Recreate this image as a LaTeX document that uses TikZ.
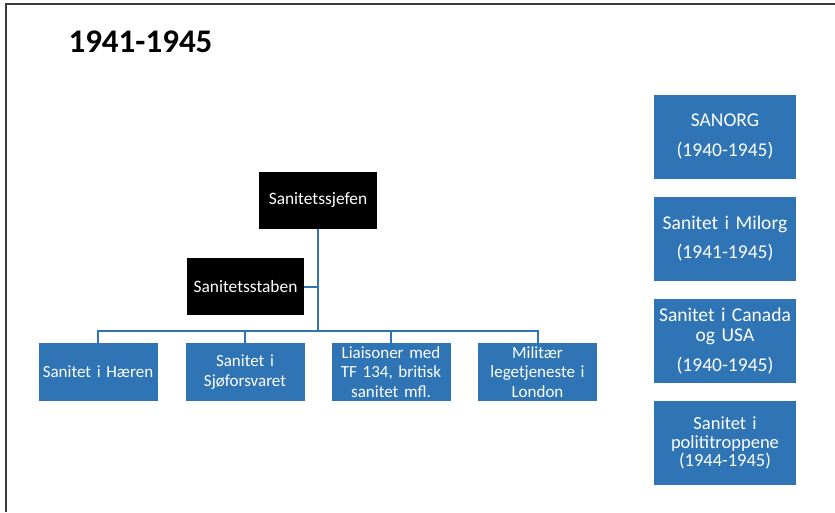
\documentclass[tikz,border=0pt]{standalone}
\usepackage{fontspec}
\setmainfont{Carlito}
\definecolor{orgblue}{RGB}{47,117,181}
\definecolor{framegray}{RGB}{60,60,60}
\begin{document}
\begin{tikzpicture}[x=1pt,y=-1pt,
  darkbox/.style={fill=black,text=white,inner sep=0pt,minimum width=118pt,minimum height=57pt,align=center,font=\fontsize{17.4}{20}\selectfont},
  unitbox/.style={fill=orgblue,text=white,inner sep=0pt,minimum width=119pt,minimum height=58pt,text width=117pt,align=center,font=\fontsize{17}{19.5}\selectfont},
  sidebox/.style={fill=orgblue,text=white,inner sep=0pt,minimum width=142pt,minimum height=84pt,text width=140pt,align=center,font=\fontsize{19.5}{20}\selectfont},
  link/.style={draw=orgblue,line width=2pt}]
\useasboundingbox (0,0) rectangle (835,512);
\draw[framegray,line width=1.5pt] (6,512) -- (6,4) -- (835,4);
\node[anchor=base west,font=\fontsize{33}{36}\selectfont\bfseries] (title) at (65,52) {1941-1945};
\node[darkbox] (chief) at (318,200.5) {Sanitetssjefen};
\node[darkbox,minimum width=117pt] (staff) at (245.5,286.5) {Sanitetsstaben};
\coordinate (junction) at (318,331);
\node[unitbox] (b1) at (98,372) {Sanitet i Hæren};
\node[unitbox] (b2) at (245,372) {Sanitet i\\Sjøforsvaret};
\node[unitbox] (b3) at (391,372) {Liaisoner med\\TF 134, britisk\\sanitet mfl.};
\node[unitbox] (b4) at (537.5,372) {Militær\\legetjeneste i\\London};
\draw[link] (chief.south) -- (junction);
\draw[link] (staff.east) -- (staff.east -| chief.south);
\draw[link] (b1.north) |- (junction);
\draw[link] (b2.north) |- (junction);
\draw[link] (b3.north) |- (junction);
\draw[link] (b4.north) |- (junction);
\node[sidebox] (r1) at (725,137) {SANORG\\[10pt](1940-1945)};
\node[sidebox] (r2) at (725,239) {Sanitet i Milorg\\[9pt](1941-1945)};
\node[sidebox] (r3) at (725,341) {Sanitet i Canada\\og USA\\[10pt](1940-1945)};
\node[sidebox,font=\fontsize{18.5}{18.5}\selectfont] (r4) at (725,443) {Sanitet i\\polititroppene\\(1944-1945)};
\end{tikzpicture}
\end{document}
